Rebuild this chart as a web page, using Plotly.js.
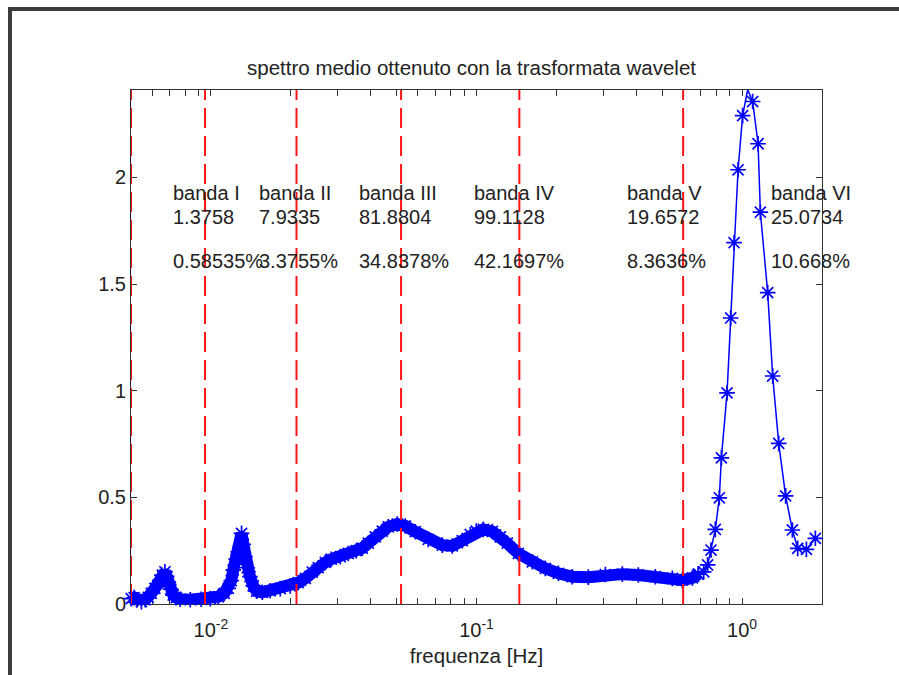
<!DOCTYPE html>
<html>
<head>
<meta charset="utf-8">
<script src="https://cdn.plot.ly/plotly-3.0.1.min.js"></script>
<style>
  html, body { margin: 0; padding: 0; background: #ffffff; overflow: hidden; }
  #chart { position: absolute; left: 0; top: 0; width: 899px; height: 675px; }
  #frame { position: absolute; left: 8px; top: 7px; width: 2000px; height: 2000px;
           border-top: 4px solid #3c3c3c; border-left: 4px solid #3c3c3c;
           pointer-events: none; z-index: 5; }
</style>
</head>
<body>
<div id="chart"></div>
<div id="frame"></div>
<script>
// ---- data ----
// dense part of the mean wavelet spectrum (frequency in Hz, power)
const freqBand = [0.00501, 0.00514, 0.00528, 0.00547, 0.00566, 0.00581, 0.00596, 0.00615, 0.00643, 0.00656,
                  0.00671, 0.00682, 0.00691, 0.00706, 0.00721, 0.00740, 0.00766, 0.00836, 0.00919, 0.00994,
                  0.01065, 0.01122, 0.01162, 0.01193, 0.01213, 0.01245, 0.01267, 0.01304, 0.01324, 0.01343,
                  0.01370, 0.01403, 0.01443, 0.01485, 0.01561, 0.01672, 0.01824, 0.01989, 0.02132, 0.02266,
                  0.02407, 0.02536, 0.02695, 0.02839, 0.03069, 0.03289, 0.03526, 0.03715, 0.03913, 0.04157,
                  0.04418, 0.04654, 0.0503, 0.05393, 0.05882, 0.06584, 0.07433, 0.08106, 0.0884, 0.09475,
                  0.09982, 0.1061, 0.1147, 0.1229, 0.1306, 0.1437, 0.1623, 0.1816, 0.2033, 0.2295,
                  0.2637, 0.3056, 0.3541, 0.4068, 0.4714, 0.5465, 0.5959, 0.6499, 0.6846];
const powerBand = [0.025, 0.03, 0.02, 0.011, 0.02, 0.031, 0.05, 0.073, 0.112, 0.135,
                   0.151, 0.13, 0.104, 0.07, 0.042, 0.03, 0.022, 0.02, 0.022, 0.025,
                   0.034, 0.05, 0.073, 0.11, 0.159, 0.21, 0.245, 0.331, 0.28, 0.222,
                   0.17, 0.128, 0.085, 0.06, 0.055, 0.062, 0.072, 0.085, 0.1, 0.12,
                   0.15, 0.17, 0.195, 0.21, 0.222, 0.237, 0.25, 0.262, 0.285, 0.315,
                   0.342, 0.362, 0.375, 0.366, 0.339, 0.303, 0.276, 0.272, 0.297, 0.325,
                   0.342, 0.35, 0.34, 0.315, 0.285, 0.237, 0.198, 0.167, 0.144, 0.128,
                   0.126, 0.138, 0.14, 0.136, 0.128, 0.12, 0.112, 0.122, 0.14];
// sparse part (cardiac peak)
const freqPeak = [0.717, 0.742, 0.764, 0.793, 0.821, 0.836, 0.878, 0.906, 0.933, 0.966, 1.005, 1.050,
                  1.096, 1.149, 1.172, 1.249, 1.304, 1.374, 1.459, 1.547, 1.620, 1.747, 1.888];
const powerPeak = [0.151, 0.183, 0.253, 0.35, 0.498, 0.685, 0.99, 1.341, 1.694, 2.036, 2.29, 2.411,
                   2.356, 2.158, 1.837, 1.46, 1.069, 0.753, 0.507, 0.347, 0.261, 0.256, 0.308];

// band edges (Hz) and band annotations
const bandEdges   = [0.005, 0.0095, 0.021, 0.052, 0.145, 0.6, 2.0];
const bandNames   = ['banda I', 'banda II', 'banda III', 'banda IV', 'banda V', 'banda VI'];
const bandPower   = ['1.3758', '7.9335', '81.8804', '99.1128', '19.6572', '25.0734'];
const bandPercent = ['0.58535%', '3.3755%', '34.8378%', '42.1697%', '8.3636%', '10.668%'];

// axis ticks
const xDecadeTicks  = [0.01, 0.1, 1];
const xDecadeLabels = ['10<sup>-2</sup>', '10<sup>-1</sup>', '10<sup>0</sup>'];
const yTicks        = [0, 0.5, 1, 1.5, 2];
const yTickLabels   = ['0', '0.5', '1', '1.5', '2'];

// ---- build ----
const xMin = bandEdges[0], xMax = bandEdges[bandEdges.length - 1];
const yTop = 2.41;

const xMinorVals = [];
for (let e = -3; e <= 0; e++) {
  for (let m = 2; m <= 9; m++) {
    const v = m * Math.pow(10, e);
    if (v < xMin - 1e-12 || v > xMax + 1e-12) continue;
    xMinorVals.push(v);
  }
}

const blue = '#0000ff';
const starMarker = { symbol: 'asterisk-open', size: 13, color: blue, line: { color: blue, width: 1.7 } };

const traceBand = {
  type: 'scatter', mode: 'lines+markers', x: freqBand, y: powerBand,
  line: { color: blue, width: 12 }, marker: starMarker, cliponaxis: false, hoverinfo: 'skip'
};
const lastX = freqBand[freqBand.length - 1], lastY = powerBand[powerBand.length - 1];
const tracePeak = {
  type: 'scatter', mode: 'lines+markers', x: [lastX].concat(freqPeak), y: [lastY].concat(powerPeak),
  line: { color: blue, width: 1.5 }, marker: starMarker, cliponaxis: false, hoverinfo: 'skip'
};

const lx = [], ly = [];
for (let i = 0; i < bandEdges.length - 1; i++) {
  lx.push(bandEdges[i], bandEdges[i], null);
  ly.push(0, yTop, null);
}
const traceEdges = {
  type: 'scatter', mode: 'lines', x: lx, y: ly,
  line: { color: '#ff1414', width: 2, dash: '20px,8px' }, hoverinfo: 'skip'
};

const annotations = [];
for (let i = 0; i < bandNames.length; i++) {
  const xm = Math.log10((bandEdges[i] + bandEdges[i + 1]) / 2);
  const base = { xref: 'x', yref: 'y', x: xm, xanchor: 'left', yanchor: 'middle', showarrow: false,
                 xshift: -3, font: { size: 20, color: '#222' } };
  annotations.push(Object.assign({}, base, { y: 1.925, text: bandNames[i] }));
  annotations.push(Object.assign({}, base, { y: 1.813, text: bandPower[i] }));
  annotations.push(Object.assign({}, base, { y: 1.607, text: bandPercent[i] }));
}

const axisCommon = {
  showline: true, linecolor: '#333', linewidth: 1, mirror: 'ticks',
  ticks: 'inside', ticklen: 6, tickcolor: '#333', tickwidth: 1,
  showgrid: false, zeroline: false, automargin: false, layer: 'below traces',
  tickfont: { size: 20, color: '#222' }
};

const layout = {
  width: 899, height: 675,
  margin: { l: 131, r: 77, t: 90, b: 71 },
  paper_bgcolor: '#ffffff', plot_bgcolor: '#ffffff',
  showlegend: false,
  font: { family: 'Liberation Sans, Arial, Helvetica, sans-serif', size: 20, color: '#222' },
  title: { text: 'spettro medio ottenuto con la trasformata wavelet',
           xref: 'container', yref: 'container', x: 471.5 / 899, y: 1 - 68 / 675,
           xanchor: 'center', yanchor: 'middle', font: { size: 20.5, color: '#222' } },
  xaxis: Object.assign({}, axisCommon, {
    type: 'log', range: [Math.log10(xMin), Math.log10(xMax)],
    tickmode: 'array', tickvals: xDecadeTicks, ticktext: xDecadeLabels,
    ticklabelstandoff: 8,
    minor: { tickmode: 'array', tickvals: xMinorVals, ticks: 'inside', ticklen: 6,
             tickcolor: '#333', tickwidth: 1, showgrid: false },
    title: { text: 'frequenza [Hz]', standoff: 8, font: { size: 20.5, color: '#222' } }
  }),
  yaxis: Object.assign({}, axisCommon, {
    range: [0, yTop], tickmode: 'array', tickvals: yTicks, ticktext: yTickLabels
  }),
  annotations: annotations
};

Plotly.newPlot('chart', [traceBand, tracePeak, traceEdges], layout,
               { staticPlot: true, displayModeBar: false });
</script>
</body>
</html>
